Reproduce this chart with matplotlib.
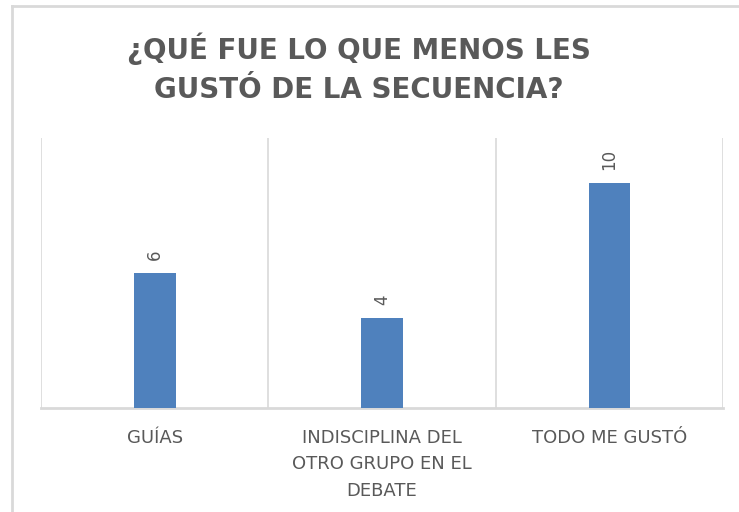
import matplotlib.pyplot as plt
import matplotlib.lines as mlines

categories = ['GUÍAS', 'INDISCIPLINA DEL\nOTRO GRUPO EN EL\nDEBATE', 'TODO ME GUSTÓ']
values = [6, 4, 10]
title = '¿QUÉ FUE LO QUE MENOS LES\nGUSTÓ DE LA SECUENCIA?'

text_color = '#595959'
grid_color = '#d9d9d9'
bar_color = '#4f81bd'

fig = plt.figure(figsize=(7.39, 5.12), dpi=100)
ax = fig.add_axes([0.0555, 0.203, 0.923, 0.527])

x = list(range(len(categories)))
bars = ax.bar(x, values, width=0.184, color=bar_color, zorder=3)
ax.set_xlim(-0.5, 2.5)
ax.set_ylim(0, 12)

# category separators
for b in [-0.5, 0.5, 1.5, 2.5]:
	ax.axvline(b, color=grid_color, linewidth=1.2, zorder=1)

for s in ['top', 'right', 'left']:
	ax.spines[s].set_visible(False)
ax.spines['bottom'].set_color(grid_color)
ax.spines['bottom'].set_linewidth(2)
ax.set_yticks([])
ax.set_xticks(x)
ax.set_xticklabels(categories, fontsize=13, color=text_color, linespacing=1.6,
	family='DejaVu Sans')
ax.tick_params(axis='x', length=0, pad=15)

for xi, v in zip(x, values):
	ax.annotate(str(v), (xi, v), xytext=(0, 9.5), textcoords='offset points',
		rotation=90, ha='center', va='bottom', fontsize=12, color=text_color)

fig.text(0.486, 0.867, title, ha='center', va='center', fontsize=20,
	fontweight='bold', color=text_color, linespacing=1.53, family='DejaVu Sans')

# outer chart border (left and top edges)
fig.add_artist(mlines.Line2D([12/739, 12/739], [0, 1 - 6/512], color=grid_color, linewidth=2, transform=fig.transFigure))
fig.add_artist(mlines.Line2D([12/739, 1], [1 - 6/512, 1 - 6/512], color=grid_color, linewidth=2, transform=fig.transFigure))

fig.savefig('out.png', dpi=100)
